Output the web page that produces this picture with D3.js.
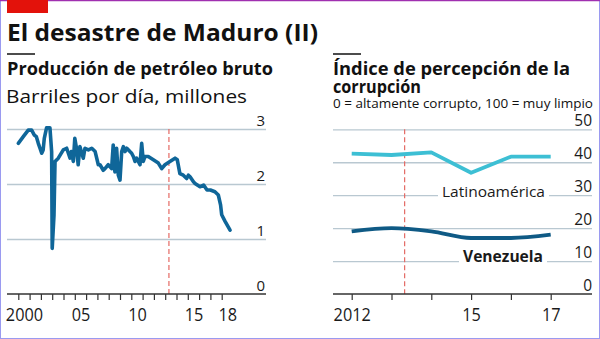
<!DOCTYPE html>
<html><head><meta charset="utf-8">
<script src="https://cdn.jsdelivr.net/npm/d3@7"></script>
<style>
html,body{margin:0;padding:0;background:#fff;}
svg{display:block;font-family:"Open Sans",sans-serif;}
</style></head>
<body><svg id="c" width="600" height="339"></svg>
<script>
// ---------- DATA ----------
const title = "El desastre de Maduro (II)";
const leftTitle = "Producción de petróleo bruto";
const leftSub = "Barriles por día, millones";
const rightTitle1 = "Índice de percepción de la";
const rightTitle2 = "corrupción";
const rightSub = "0 = altamente corrupto, 100 = muy limpio";

const oilYears = [2000.0,2000.44,2000.88,2001.18,2001.42,2001.6,2001.77,2001.92,2002.07,2002.2,2002.3,2002.5,2002.8,2002.95,2003.0,2003.16,2003.25,2003.54,2003.98,2004.28,2004.58,2004.7,2004.87,2005.0,2005.15,2005.3,2005.45,2005.75,2005.9,2006.2,2006.5,2006.8,2007.08,2007.23,2007.52,2007.67,2007.96,2008.26,2008.4,2008.55,2008.7,2008.85,2009.0,2009.15,2009.3,2009.44,2009.6,2009.88,2010.03,2010.18,2010.33,2010.47,2010.77,2010.92,2011.06,2011.21,2011.5,2011.95,2012.39,2012.69,2012.98,2013.42,2013.87,2014.07,2014.3,2014.6,2014.9,2015.05,2015.2,2015.5,2015.64,2016.08,2016.4,2016.7,2017.0,2017.4,2017.7,2017.9,2018.0,2018.3,2018.74];
const oilValues = [2.74,2.86,2.98,2.98,2.89,2.86,2.74,2.65,2.56,2.62,2.83,3.02,3.02,2.59,0.83,1.44,2.41,2.47,2.62,2.65,2.47,2.59,2.41,2.83,2.65,2.35,2.68,2.47,2.65,2.62,2.65,2.59,2.35,2.35,2.25,2.28,2.35,2.28,2.71,2.22,2.65,2.16,2.07,2.59,2.68,2.59,2.65,2.59,2.56,2.5,2.41,2.47,2.35,2.74,2.41,2.5,2.5,2.44,2.38,2.28,2.35,2.41,2.47,2.44,2.19,2.16,2.1,2.16,2.13,2.04,2.01,1.95,1.98,1.89,1.89,1.86,1.8,1.62,1.44,1.32,1.16];
const oilYTicks = [0,1,2,3];
const oilXTicks = d3.range(2000, 2019);
const oilXLabels = [2000, 2005, 2010, 2015, 2018];
const oilXLabelText = ["2000","05","10","15","18"];

const cpiYears = [2012,2013,2014,2015,2016,2017];
const latamValues = [42.6,42.2,43.0,36.8,41.7,41.7];
const venezuelaValues = [19,20,19,17,17,18];
const cpiYTicks = [0,10,20,30,40,50];
const cpiXLabels = [2012,2015,2017];
const cpiXLabelText = ["2012","15","17"];
const maduroStart = 2013.33;

// ---------- STYLE ----------
const C = {blue:"#0f6699", dark:"#0f5a85", cyan:"#3dbfd4", grid:"#b9c8d1", axis:"#333", red:"#e46a64", text:"#1a1a1a"};
const svg = d3.select("#c");

function fitW(sel, w){
  sel.attr("textLength", w).attr("lengthAdjust","spacingAndGlyphs");
}
function squeeze(sel, k){
  sel.each(function(){
    const len = this.getComputedTextLength();
    d3.select(this).attr("textLength", len*k).attr("lengthAdjust","spacingAndGlyphs");
  });
}

// frame
svg.append("rect").attr("x",0.5).attr("y",0.5).attr("width",599).attr("height",338)
  .attr("fill","none").attr("stroke","#9a9af0").attr("stroke-width",1);
svg.append("line").attr("x1",0).attr("x2",600).attr("y1",0.5).attr("y2",0.5).attr("stroke","#a030b0").attr("stroke-width",1.5);
svg.append("rect").attr("x",7).attr("y",0).attr("width",41).attr("height",13).attr("fill","#e3120b");

// titles
fitW(svg.append("text").attr("x",7).attr("y",41).attr("font-size",22.5).attr("font-weight",700)
  .attr("fill","#111").text(title), 311);
svg.append("line").attr("x1",7).attr("x2",35).attr("y1",54).attr("y2",54).attr("stroke","#111").attr("stroke-width",1.5);
svg.append("line").attr("x1",333).attr("x2",361).attr("y1",54).attr("y2",54).attr("stroke","#111").attr("stroke-width",1.5);
fitW(svg.append("text").attr("x",7).attr("y",75).attr("font-size",18).attr("font-weight",700)
  .attr("fill","#111").text(leftTitle), 266);
fitW(svg.append("text").attr("x",6).attr("y",103).attr("font-size",18.5).attr("fill","#111").text(leftSub), 241);
fitW(svg.append("text").attr("x",333).attr("y",75).attr("font-size",18).attr("font-weight",700)
  .attr("fill","#111").text(rightTitle1), 237);
fitW(svg.append("text").attr("x",333).attr("y",93).attr("font-size",18).attr("font-weight",700)
  .attr("fill","#111").text(rightTitle2), 88);
fitW(svg.append("text").attr("x",333).attr("y",108).attr("font-size",12.5).attr("fill","#111").text(rightSub), 260);

// ---------- LEFT CHART ----------
const xL = d3.scaleLinear().domain([2000,2018]).range([18.3,221.7]);
const yL = d3.scaleLinear().domain([0,3]).range([294,129]);
const gridL0 = 7, gridL1 = 266;

const gyL = svg.append("g").attr("transform",`translate(${gridL1},0)`)
  .call(d3.axisLeft(yL).tickValues(oilYTicks.filter(d=>d>0)).tickSize(gridL1-gridL0).tickFormat(""));
gyL.select(".domain").remove();
gyL.selectAll(".tick line").attr("stroke",C.grid).attr("stroke-width",1.3);
oilYTicks.forEach(v=>{
  svg.append("text").attr("x",gridL1-1).attr("y",yL(v)-3).attr("text-anchor","end")
    .attr("font-size",15).attr("fill",C.text).text(v);
});

svg.append("line").attr("x1",xL(maduroStart)).attr("x2",xL(maduroStart))
  .attr("y1",yL(3)).attr("y2",yL(0)).attr("stroke",C.red).attr("stroke-width",1.2).attr("stroke-dasharray","5,3");

const oil = oilYears.map((y,i)=>[y,oilValues[i]]);
svg.append("path").datum(oil).attr("fill","none").attr("stroke",C.blue).attr("stroke-width",3.6)
  .attr("stroke-linejoin","round").attr("stroke-linecap","round")
  .attr("d", d3.line().x(d=>xL(d[0])).y(d=>yL(d[1])));

const axL = svg.append("g").attr("transform",`translate(0,${yL(0)})`)
  .call(d3.axisBottom(xL).tickValues(oilXTicks).tickSize(6).tickFormat(""));
axL.select(".domain").remove();
axL.selectAll(".tick line").attr("stroke",C.axis).attr("stroke-width",1.2);
svg.append("line").attr("x1",gridL0).attr("x2",gridL1).attr("y1",yL(0)).attr("y2",yL(0)).attr("stroke",C.axis).attr("stroke-width",1.3);
const lblL = svg.append("g").attr("transform",`translate(0,${yL(0)})`)
  .call(d3.axisBottom(xL).tickValues(oilXLabels.map(d=>d+0.5)).tickSize(0)
    .tickFormat((d,i)=>oilXLabelText[i]));
lblL.select(".domain").remove();
lblL.selectAll("text").attr("font-size",18.5).attr("font-family","'Open Sans',sans-serif").attr("fill",C.text).attr("y",14).attr("dy","0.71em");
squeeze(lblL.selectAll("text"), 0.88);

// ---------- RIGHT CHART ----------
const xR = d3.scaleLinear().domain([2012,2017]).range([351.7,550.7]);
const yR = d3.scaleLinear().domain([0,50]).range([294,129.3]);
const gridR0 = 333, gridR1 = 592;

const gyR = svg.append("g").attr("transform",`translate(${gridR1},0)`)
  .call(d3.axisLeft(yR).tickValues(cpiYTicks.filter(d=>d>0)).tickSize(gridR1-gridR0).tickFormat(""));
gyR.select(".domain").remove();
gyR.selectAll(".tick line").attr("stroke",C.grid).attr("stroke-width",1.3);
cpiYTicks.forEach(v=>{
  svg.append("text").attr("x",gridR1).attr("y",yR(v)-3).attr("text-anchor","end")
    .attr("font-size",15.5).attr("fill",C.text).text(v);
});

svg.append("line").attr("x1",xR(maduroStart)).attr("x2",xR(maduroStart))
  .attr("y1",yR(50)).attr("y2",yR(0)).attr("stroke",C.red).attr("stroke-width",1.2).attr("stroke-dasharray","5,3");

function label(txt, x, y, size, weight, w){
  const t = svg.append("text").attr("x",x).attr("y",y).attr("font-size",size).attr("font-weight",weight)
    .attr("fill",C.text).text(txt);
  fitW(t, w);
  const bb = t.node().getBBox();
  svg.insert("rect", () => t.node()).attr("x",x-4).attr("y",bb.y).attr("width",w+8).attr("height",bb.height).attr("fill","#fff");
}
label("Latinoamérica", 442, 197, 15, 400, 103);
label("Venezuela", 463, 262, 16.5, 700, 80);

const lineR = d3.line().x((d,i)=>xR(cpiYears[i])).y(d=>yR(d));
svg.append("path").datum(latamValues).attr("fill","none").attr("stroke",C.cyan).attr("stroke-width",3.8)
  .attr("stroke-linejoin","round").attr("d",lineR);
svg.append("path").datum(venezuelaValues).attr("fill","none").attr("stroke",C.dark).attr("stroke-width",3.8)
  .attr("stroke-linejoin","round").attr("d",lineR.curve(d3.curveMonotoneX));

const axR = svg.append("g").attr("transform",`translate(0,${yR(0)})`)
  .call(d3.axisBottom(xR).tickValues(cpiYears).tickSize(6).tickFormat(""));
axR.select(".domain").remove();
axR.selectAll(".tick line").attr("stroke",C.axis).attr("stroke-width",1.2);
svg.append("line").attr("x1",gridR0).attr("x2",gridR1).attr("y1",yR(0)).attr("y2",yR(0)).attr("stroke",C.axis).attr("stroke-width",1.3);
const lblR = svg.append("g").attr("transform",`translate(0,${yR(0)})`)
  .call(d3.axisBottom(xR).tickValues(cpiXLabels).tickSize(0).tickFormat((d,i)=>cpiXLabelText[i]));
lblR.select(".domain").remove();
lblR.selectAll("text").attr("font-size",18.5).attr("font-family","'Open Sans',sans-serif").attr("fill",C.text).attr("y",14).attr("dy","0.71em");
squeeze(lblR.selectAll("text"), 0.88);
</script></body></html>
